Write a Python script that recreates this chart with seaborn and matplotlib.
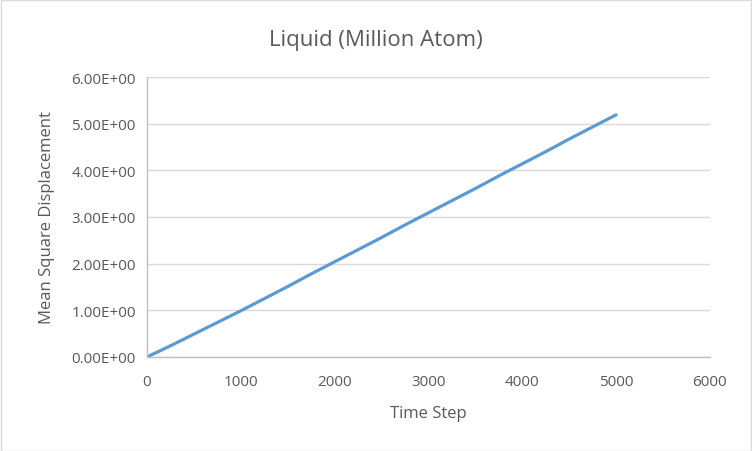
import matplotlib
matplotlib.use("Agg")
import matplotlib.pyplot as plt
import matplotlib.ticker as mticker
import pandas as pd
import seaborn as sns

# data
time_step = [0, 250, 500, 750, 1000, 1250, 1500, 1750, 2000, 2250, 2500,
             2750, 3000, 3250, 3500, 3750, 4000, 4250, 4500, 4750, 5000]
msd = [0.0, 0.24, 0.49, 0.74, 0.99, 1.25, 1.51, 1.78, 2.04, 2.30, 2.56,
       2.83, 3.09, 3.35, 3.61, 3.88, 4.14, 4.40, 4.67, 4.93, 5.19]
x_ticks = [0, 1000, 2000, 3000, 4000, 5000, 6000]
y_ticks = [0, 1, 2, 3, 4, 5, 6]

df = pd.DataFrame({"Time Step": time_step, "Mean Square Displacement": msd})

sns.set_style("white")
plt.rcParams['font.family'] = ['Open Sans', 'DejaVu Sans']

fig = plt.figure(figsize=(7.52, 4.52), dpi=100)
ax = fig.add_axes([0.1955, 0.208, 0.7485, 0.6194])

sns.lineplot(data=df, x="Time Step", y="Mean Square Displacement", ax=ax,
             color="#5b9bd5", linewidth=2.3)

ax.set_xlim(0, 6000)
ax.set_ylim(0, 6)
ax.set_xticks(x_ticks)
ax.set_yticks(y_ticks)
ax.yaxis.set_major_formatter(mticker.FuncFormatter(lambda v, p: f"{v:.2E}"))
ax.grid(axis="y", color="#d9d9d9", linewidth=1)
ax.set_axisbelow(True)
for s in ["top", "right"]:
    ax.spines[s].set_visible(False)
for s in ["left", "bottom"]:
    ax.spines[s].set_color("#bfbfbf")
    ax.spines[s].set_linewidth(1)
ax.tick_params(axis="both", length=0, labelsize=11, labelcolor="#595959")
ax.tick_params(axis="x", pad=12)
ax.tick_params(axis="y", pad=8)
ax.set_xlabel("Time Step", fontsize=12, color="#595959", labelpad=12)
ax.set_ylabel("Mean Square Displacement", fontsize=12, color="#595959", labelpad=12)

fig.text(0.5, 0.91, "Liquid (Million Atom)", ha="center", va="center",
         fontsize=16, color="#595959")

# light border around the chart area
fig.patches.append(plt.Rectangle((0.001, 0.001), 0.998, 0.997, transform=fig.transFigure,
                                 fill=False, edgecolor="#d9d9d9", linewidth=1))

fig.savefig("out.png", dpi=100)
